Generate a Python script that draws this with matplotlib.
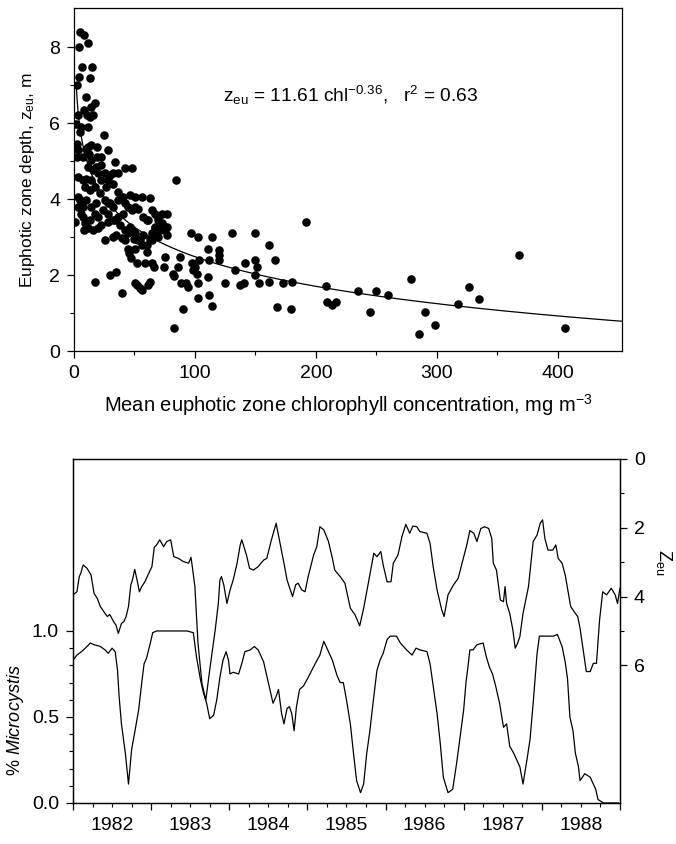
import numpy as np
import matplotlib
matplotlib.use("Agg")
import matplotlib.pyplot as plt
from matplotlib.ticker import FixedLocator, FixedFormatter, FormatStrFormatter

plt.rcParams["font.family"] = ["Liberation Sans", "DejaVu Sans"]
plt.rcParams["mathtext.fontset"] = "custom"
plt.rcParams["mathtext.rm"] = "Liberation Sans"
plt.rcParams["mathtext.it"] = "Liberation Sans:italic"
plt.rcParams["font.size"] = 13
plt.rcParams["xtick.labelsize"] = 14
plt.rcParams["ytick.labelsize"] = 14

# --- top panel: euphotic depth vs chlorophyll ---
chl = [
    4.7, 8.3, 3.9, 11.6, 6.9, 15.2, 4.1, 13.0, 2.8, 10.2, 1.4, 3.3, 8.3, 14.4, 17.2,
    11.1, 15.8, 11.6, 6.1, 4.7, 13.0, 2.5, 3.3, 2.8, 7.5, 11.6, 12.2, 10.2, 14.4, 19.4,
    24.9, 28.2, 33.7, 42.0, 47.6, 19.4, 22.1, 14.4, 11.6, 15.8, 18.5, 22.7, 25.4, 29.6, 32.4,
    36.0, 3.3, 7.5, 10.2, 14.4, 19.9, 22.7, 28.2, 3.3, 4.7, 8.9, 13.0, 17.2, 21.3, 26.8,
    32.4, 36.5, 40.7, 46.2, 50.3, 55.9, 62.8, 36.5, 1.1, 3.3, 6.1, 7.5, 8.9, 13.0, 17.2,
    19.9, 24.1, 28.2, 32.4, 25.4, 29.6, 32.4, 36.5, 40.7, 44.8, 47.6, 50.3, 53.1, 57.3, 60.0,
    64.2, 66.9, 69.7, 72.5, 75.2, 8.3, 11.6, 15.8, 19.9, 22.7, 28.2, 33.7, 37.9, 42.0, 46.2,
    50.3, 53.1, 57.3, 61.4, 64.2, 66.9, 69.7, 72.5, 76.6, 7.5, 10.2, 18.5, 28.2, 42.0, 14.4,
    25.4, 32.4, 35.1, 39.3, 42.0, 44.3, 47.6, 49.8, 44.8, 45.6, 47.0, 50.3, 54.5, 56.4, 60.0,
    62.8, 64.7, 66.9, 68.3, 69.7, 71.1, 58.6, 64.2, 60.0, 51.7, 50.3, 51.7, 54.5, 55.9, 61.4,
    62.8, 66.4, 17.7, 29.6, 35.1, 39.8, 74.4, 75.2, 76.6, 84.6, 87.7, 86.3, 82.2, 83.0, 88.5,
    90.5, 92.4, 94.6, 97.4, 98.2, 100.1, 101.8, 102.9, 102.4, 103.5, 96.8, 102.9, 110.4, 111.2, 114.0,
    110.6, 114.0, 111.8, 119.5, 119.5, 120.1, 125.0, 130.6, 133.3, 137.5, 140.2, 141.6, 149.4, 149.9, 151.3,
    149.9, 153.3, 161.0, 161.5, 166.0, 167.9, 172.9, 179.8, 180.4, 192.0, 208.0, 209.4, 213.6, 216.3, 82.7,
    76.6, 235.1, 244.5, 249.8, 259.8, 278.6, 285.5, 290.2, 298.5, 317.8, 326.4, 334.7, 367.6, 405.8,
]
zeu = [
    8.40, 8.32, 8.01, 8.10, 7.48, 7.48, 7.22, 7.19, 7.00, 6.69, 5.99, 6.21, 6.34, 6.43, 6.52,
    6.21, 6.21, 5.90, 5.90, 5.77, 6.17, 5.46, 5.29, 5.11, 5.11, 5.38, 5.20, 5.33, 5.42, 5.38,
    5.68, 5.29, 4.98, 4.81, 4.81, 5.11, 5.11, 5.03, 4.85, 4.76, 4.85, 4.89, 4.68, 4.63, 4.68,
    4.68, 4.59, 4.50, 4.54, 4.50, 4.68, 4.50, 4.50, 4.06, 3.97, 4.32, 4.24, 4.32, 4.15, 4.32,
    4.41, 4.19, 4.06, 4.11, 4.06, 4.06, 4.02, 3.97, 3.40, 3.80, 3.62, 3.54, 3.36, 3.45, 3.62,
    3.54, 3.71, 3.62, 3.80, 3.97, 3.89, 3.45, 3.54, 3.62, 3.80, 3.71, 3.80, 3.75, 3.54, 3.45,
    3.71, 3.62, 3.45, 3.36, 3.18, 3.18, 3.23, 3.18, 3.23, 3.32, 3.40, 3.45, 3.32, 3.18, 3.27,
    3.10, 2.92, 3.05, 3.45, 3.10, 3.23, 3.54, 3.62, 3.27, 3.80, 3.97, 3.89, 3.89, 3.89, 3.80,
    2.92, 3.01, 3.05, 2.99, 2.92, 3.10, 3.18, 2.96, 2.70, 2.57, 2.44, 2.70, 2.92, 2.79, 2.79,
    2.96, 2.92, 3.27, 3.10, 3.01, 3.18, 2.31, 2.31, 2.61, 2.31, 1.78, 1.74, 1.65, 1.61, 1.74,
    1.82, 2.22, 1.82, 2.00, 2.09, 1.54, 2.22, 2.48, 3.62, 4.50, 2.48, 2.22, 2.04, 1.98, 1.78,
    1.10, 1.78, 1.69, 2.31, 2.13, 2.22, 2.04, 1.78, 1.40, 2.39, 3.10, 3.01, 1.96, 1.47, 1.18,
    2.70, 3.01, 2.39, 2.66, 2.39, 2.53, 1.78, 3.10, 2.13, 1.74, 1.78, 2.31, 3.10, 2.39, 2.22,
    2.00, 1.78, 2.79, 1.82, 2.39, 1.17, 1.78, 1.12, 1.82, 3.40, 1.71, 1.30, 1.21, 1.30, 0.60,
    3.05, 1.59, 1.02, 1.59, 1.48, 1.91, 0.46, 1.02, 0.69, 1.25, 1.69, 1.38, 2.53, 0.60,
]

# curve drawn on the figure (log fit)
fit_a, fit_b = 7.66, 1.124

# --- bottom panel: time series ---
t_zeu = [
    1982.00, 1982.05, 1982.08, 1982.10, 1982.13, 1982.18, 1982.23, 1982.27, 1982.31, 1982.35,
    1982.41, 1982.44, 1982.47, 1982.52, 1982.55, 1982.58, 1982.62, 1982.65, 1982.68, 1982.71,
    1982.74, 1982.76, 1982.79, 1982.82, 1982.85, 1982.88, 1982.92, 1982.96, 1983.01, 1983.04,
    1983.07, 1983.11, 1983.16, 1983.20, 1983.25, 1983.29, 1983.35, 1983.41, 1983.48, 1983.51,
    1983.53, 1983.56, 1983.60, 1983.65, 1983.70, 1983.75, 1983.82, 1983.86, 1983.88, 1983.90,
    1983.93, 1983.97, 1984.01, 1984.05, 1984.10, 1984.14, 1984.16, 1984.20, 1984.22, 1984.26,
    1984.31, 1984.37, 1984.44, 1984.48, 1984.54, 1984.60, 1984.65, 1984.70, 1984.74, 1984.81,
    1984.85, 1984.88, 1984.93, 1984.97, 1985.01, 1985.08, 1985.12, 1985.16, 1985.21, 1985.27,
    1985.32, 1985.35, 1985.42, 1985.48, 1985.55, 1985.61, 1985.67, 1985.72, 1985.78, 1985.85,
    1985.89, 1985.94, 1985.97, 1986.02, 1986.07, 1986.10, 1986.16, 1986.21, 1986.26, 1986.31,
    1986.35, 1986.40, 1986.44, 1986.53, 1986.57, 1986.61, 1986.66, 1986.72, 1986.75, 1986.80,
    1986.87, 1986.93, 1986.99, 1987.04, 1987.08, 1987.13, 1987.17, 1987.22, 1987.27, 1987.32,
    1987.36, 1987.38, 1987.42, 1987.47, 1987.51, 1987.53, 1987.55, 1987.59, 1987.63, 1987.66,
    1987.69, 1987.72, 1987.76, 1987.83, 1987.89, 1987.94, 1987.98, 1988.01, 1988.04, 1988.08,
    1988.14, 1988.18, 1988.21, 1988.26, 1988.30, 1988.33, 1988.37, 1988.43, 1988.46, 1988.49,
    1988.53, 1988.57, 1988.62, 1988.66, 1988.70, 1988.74, 1988.78, 1988.83, 1988.89, 1988.94,
    1988.97, 1989.00,
]
z_series = [
    3.95, 3.86, 3.42, 3.32, 3.08, 3.18, 3.37, 3.91, 4.05, 4.29,
    4.49, 4.58, 4.52, 4.73, 4.83, 5.07, 4.78, 4.73, 4.58, 4.29,
    3.66, 3.52, 3.21, 3.52, 3.86, 3.71, 3.57, 3.37, 3.13, 2.57,
    2.50, 2.35, 2.55, 2.40, 2.35, 2.84, 2.89, 2.98, 3.03, 2.86,
    3.18, 3.71, 5.36, 6.52, 7.01, 6.13, 4.97, 4.20, 3.52, 3.42,
    3.66, 4.20, 3.81, 3.52, 3.03, 2.50, 2.35, 2.65, 2.79, 3.18,
    3.23, 3.13, 2.94, 2.89, 2.35, 1.87, 2.45, 3.03, 3.52, 4.00,
    3.66, 3.61, 3.81, 3.86, 3.42, 2.79, 2.55, 1.97, 2.06, 2.40,
    2.89, 3.23, 3.42, 3.61, 4.34, 4.53, 4.85, 4.34, 3.61, 2.74,
    2.84, 2.69, 3.08, 3.57, 3.57, 3.03, 2.79, 2.26, 1.90, 2.16,
    1.95, 1.97, 2.11, 2.16, 2.45, 3.13, 3.81, 4.39, 4.58, 3.95,
    3.66, 3.47, 2.94, 2.50, 2.08, 2.16, 2.40, 2.02, 1.97, 2.02,
    2.31, 3.03, 3.23, 4.10, 4.15, 3.71, 4.20, 4.49, 4.97, 5.50,
    5.36, 5.16, 4.49, 3.71, 2.40, 2.21, 1.87, 1.77, 2.31, 2.65,
    2.65, 2.50, 2.89, 3.03, 3.37, 3.76, 4.29, 4.49, 4.58, 4.92,
    5.55, 6.18, 6.18, 5.94, 5.94, 4.68, 3.86, 3.95, 3.76, 3.95,
    4.20, 3.76,
]

t_micro = [
    1982.00, 1982.05, 1982.11, 1982.18, 1982.22, 1982.27, 1982.35, 1982.41, 1982.45, 1982.50,
    1982.54, 1982.57, 1982.59, 1982.62, 1982.67, 1982.71, 1982.75, 1982.79, 1982.84, 1982.88,
    1982.91, 1982.94, 1982.99, 1983.02, 1983.07, 1983.16, 1983.28, 1983.46, 1983.54, 1983.58,
    1983.63, 1983.67, 1983.71, 1983.75, 1983.80, 1983.84, 1983.88, 1983.92, 1983.96, 1983.99,
    1984.01, 1984.05, 1984.12, 1984.16, 1984.20, 1984.27, 1984.32, 1984.37, 1984.44, 1984.48,
    1984.52, 1984.56, 1984.60, 1984.63, 1984.67, 1984.70, 1984.74, 1984.77, 1984.80, 1984.83,
    1984.86, 1984.90, 1984.95, 1985.01, 1985.10, 1985.16, 1985.21, 1985.27, 1985.32, 1985.38,
    1985.42, 1985.46, 1985.50, 1985.55, 1985.59, 1985.63, 1985.68, 1985.72, 1985.76, 1985.80,
    1985.84, 1985.89, 1985.93, 1985.97, 1986.02, 1986.06, 1986.14, 1986.19, 1986.27, 1986.34,
    1986.39, 1986.44, 1986.53, 1986.57, 1986.61, 1986.66, 1986.70, 1986.74, 1986.80, 1986.86,
    1986.91, 1986.95, 1987.00, 1987.03, 1987.06, 1987.08, 1987.12, 1987.17, 1987.25, 1987.29,
    1987.33, 1987.37, 1987.41, 1987.46, 1987.51, 1987.55, 1987.59, 1987.64, 1987.68, 1987.72,
    1987.76, 1987.81, 1987.85, 1987.89, 1987.94, 1987.97, 1988.06, 1988.15, 1988.20, 1988.26,
    1988.30, 1988.33, 1988.36, 1988.40, 1988.43, 1988.47, 1988.49, 1988.55, 1988.62, 1988.66,
    1988.69, 1988.72, 1988.79, 1988.92, 1988.98,
]
micro = [
    0.83, 0.86, 0.88, 0.91, 0.93, 0.92, 0.91, 0.89, 0.87, 0.90,
    0.88, 0.77, 0.62, 0.46, 0.29, 0.11, 0.31, 0.41, 0.54, 0.70,
    0.81, 0.84, 0.93, 0.99, 1.00, 1.00, 1.00, 1.00, 0.99, 0.85,
    0.72, 0.64, 0.58, 0.49, 0.51, 0.60, 0.73, 0.83, 0.88, 0.83,
    0.75, 0.76, 0.75, 0.81, 0.88, 0.89, 0.91, 0.89, 0.82, 0.74,
    0.66, 0.58, 0.62, 0.66, 0.52, 0.46, 0.55, 0.56, 0.52, 0.42,
    0.56, 0.66, 0.68, 0.73, 0.81, 0.86, 0.94, 0.88, 0.83, 0.74,
    0.70, 0.70, 0.60, 0.46, 0.29, 0.13, 0.06, 0.11, 0.29, 0.42,
    0.58, 0.77, 0.83, 0.87, 0.95, 0.97, 0.97, 0.93, 0.89, 0.86,
    0.90, 0.89, 0.88, 0.81, 0.68, 0.52, 0.35, 0.15, 0.06, 0.08,
    0.23, 0.37, 0.54, 0.70, 0.81, 0.89, 0.89, 0.92, 0.93, 0.85,
    0.79, 0.75, 0.68, 0.58, 0.44, 0.46, 0.33, 0.29, 0.25, 0.21,
    0.11, 0.25, 0.37, 0.58, 0.87, 0.97, 0.97, 0.97, 0.98, 0.91,
    0.82, 0.72, 0.50, 0.42, 0.29, 0.21, 0.13, 0.17, 0.15, 0.11,
    0.08, 0.02, 0.00, 0.00, 0.00,
]

years = [1982, 1983, 1984, 1985, 1986, 1987, 1988]

fig = plt.figure(figsize=(6.76, 8.44), dpi=100)

# ---------------- top panel ----------------
ax = fig.add_axes([0.1095, 0.584, 0.8105, 0.4065])
ax.scatter(chl, zeu, s=38, color="black", linewidths=0, zorder=3)
xfit = np.linspace(1.9, 453, 400)
ax.plot(xfit, fit_a - fit_b * np.log(xfit), color="black", lw=0.9, zorder=2)
ax.set_xlim(0, 453)
ax.set_ylim(0, 9.03)
ax.set_xticks([0, 100, 200, 300, 400])
ax.set_xticks([50, 150, 250, 350], minor=True)
ax.set_yticks([0, 2, 4, 6, 8])
ax.set_yticks([1, 3, 5, 7], minor=True)
ax.tick_params(which="major", direction="out", length=5, width=0.9, pad=5)
ax.tick_params(which="minor", direction="out", length=3, width=0.8)
ax.tick_params(axis="x", which="major", pad=5)
ax.set_xlabel("Mean euphotic zone chlorophyll concentration, mg m$^{-3}$",
              fontsize=14.5, labelpad=7)
ax.set_ylabel("Euphotic zone depth, z$_{\\rm eu}$, m", fontsize=12.5, labelpad=9)
ax.text(123, 6.74, "z$_{\\rm eu}$ = 11.61 chl$^{-0.36}$,   r$^{2}$ = 0.63",
        ha="left", va="center", fontsize=13.8)
for s in ax.spines.values():
    s.set_linewidth(0.9)

# ---------------- bottom panel ----------------
axb = fig.add_axes([0.108, 0.0486, 0.809, 0.4076])
axb.plot(t_micro, micro, color="black", lw=0.9)
axb.set_xlim(1982, 1989)
axb.set_ylim(0, 2.0)
axb.yaxis.set_major_locator(FixedLocator([0, 0.5, 1.0]))
axb.yaxis.set_major_formatter(FormatStrFormatter("%.1f"))
axb.yaxis.set_minor_locator(FixedLocator([0.1, 0.2, 0.3, 0.4, 0.6, 0.7, 0.8, 0.9]))
axb.xaxis.set_major_locator(FixedLocator(years + [1989]))
axb.xaxis.set_major_formatter(FixedFormatter([""] * 8))
quarters = [y + q for y in years for q in (0.25, 0.5, 0.75)]
qlabels = [str(y) if q == 0.5 else "" for y in years for q in (0.25, 0.5, 0.75)]
axb.xaxis.set_minor_locator(FixedLocator(quarters))
axb.xaxis.set_minor_formatter(FixedFormatter(qlabels))
axb.tick_params(which="major", direction="out", length=5, width=0.9, pad=5)
axb.tick_params(which="minor", direction="out", length=3, width=0.8)
axb.tick_params(axis="x", which="minor", pad=7)
axb.text(-0.106, 0.24, "% $\\it{Microcystis}$", transform=axb.transAxes,
         rotation=90, ha="center", va="center", fontsize=13)

ax2 = axb.twinx()
ax2.plot(t_zeu, z_series, color="black", lw=0.9)
ax2.set_ylim(10, 0)
ax2.set_yticks([0, 2, 4, 6])
ax2.set_yticks([1, 3, 5], minor=True)
ax2.tick_params(which="major", direction="out", length=5, width=0.9, pad=5)
ax2.tick_params(which="minor", direction="out", length=3, width=0.8)
ax2.text(1.08, 0.70, "Z$_{\\rm eu}$", transform=ax2.transAxes, rotation=-90,
         ha="center", va="center", fontsize=13)
for a in (axb, ax2):
    for s in a.spines.values():
        s.set_linewidth(0.9)

fig.savefig("out.png", dpi=100)
